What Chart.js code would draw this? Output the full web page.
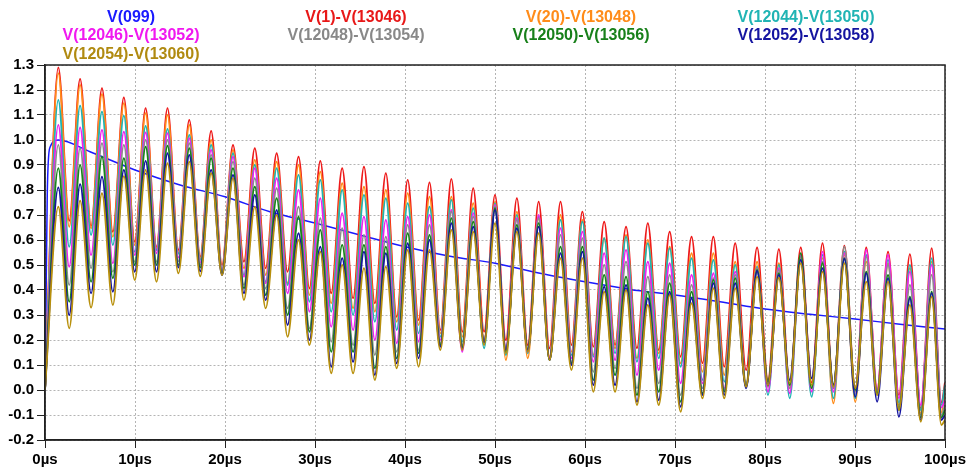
<!DOCTYPE html>
<html>
<head>
<meta charset="utf-8">
<script src="https://cdn.jsdelivr.net/npm/chart.js@4.4.1/dist/chart.umd.min.js"></script>
<style>
  html, body { margin: 0; padding: 0; background: #fff; }
  #wrap { position: relative; width: 970px; height: 472px; }
  #plot { position: absolute; left: 0; top: 0; }
  .lg { position: absolute; width: 200px; margin-left: -100px; text-align: center;
        font: bold 16px "Liberation Sans", Arial, sans-serif; line-height: 16px; white-space: nowrap; }
</style>
</head>
<body>
<div id="wrap">
  <canvas id="plot" width="970" height="472"></canvas>
  <div class="lg" style="left:131px;top:9px;color:#1a1aff">V(099)</div>
  <div class="lg" style="left:131px;top:27px;color:#f018f0">V(12046)-V(13052)</div>
  <div class="lg" style="left:131px;top:46px;color:#b08a10">V(12054)-V(13060)</div>
  <div class="lg" style="left:356px;top:9px;color:#e81818">V(1)-V(13046)</div>
  <div class="lg" style="left:356px;top:27px;color:#888888">V(12048)-V(13054)</div>
  <div class="lg" style="left:581px;top:9px;color:#ff8c1a">V(20)-V(13048)</div>
  <div class="lg" style="left:581px;top:27px;color:#18801a">V(12050)-V(13056)</div>
  <div class="lg" style="left:806px;top:9px;color:#20b4b4">V(12044)-V(13050)</div>
  <div class="lg" style="left:806px;top:27px;color:#1414a0">V(12052)-V(13058)</div>
</div>
<script>
// axis labels
const xTickLabels = ['0µs', '10µs', '20µs', '30µs', '40µs', '50µs', '60µs', '70µs', '80µs', '90µs', '100µs']
const yTickLabels = ['-0.2', '-0.1', '0.0', '0.1', '0.2', '0.3', '0.4', '0.5', '0.6', '0.7', '0.8', '0.9', '1.0', '1.1', '1.2', '1.3']

// V(099): slow decay, sample times (µs) and volts
const v099Times = [0, 0.1, 0.25, 0.55, 1.5, 5, 10, 15, 20, 25, 30, 35, 40, 45, 50, 55, 60, 65, 70, 75, 80, 85, 90, 95, 100]
const v099Values = [0, 0.3, 0.78, 0.97, 1.0, 0.953, 0.88, 0.82, 0.773, 0.713, 0.668, 0.62, 0.573, 0.535, 0.507, 0.467, 0.433, 0.402, 0.38, 0.353, 0.324, 0.303, 0.284, 0.263, 0.244]

// ringing: times (µs) of each crest and each dip
const peakTimes = [1.48, 3.90, 6.33, 8.76, 11.18, 13.61, 16.03, 18.46, 20.89, 23.31, 25.74, 28.17, 30.59, 33.02, 35.44, 37.87, 40.30, 42.72, 45.15, 47.58, 50.00, 52.43, 54.85, 57.28, 59.71, 62.13, 64.56, 66.98, 69.41, 71.84, 74.26, 76.69, 79.12, 81.54, 83.97, 86.39, 88.82, 91.25, 93.67, 96.10, 98.52]
const troughTimes = [2.69, 5.12, 7.54, 9.97, 12.39, 14.82, 17.25, 19.67, 22.10, 24.52, 26.95, 29.38, 31.80, 34.23, 36.65, 39.08, 41.51, 43.93, 46.36, 48.79, 51.21, 53.64, 56.06, 58.49, 60.92, 63.34, 65.77, 68.19, 70.62, 73.05, 75.47, 77.90, 80.33, 82.75, 85.18, 87.60, 90.03, 92.46, 94.88, 97.31, 99.60]

// V(1)-V(13046)
const redPeaks = [1.29, 1.244, 1.207, 1.17, 1.127, 1.127, 1.08, 1.036, 0.98, 0.967, 0.947, 0.933, 0.916, 0.887, 0.893, 0.867, 0.84, 0.83, 0.844, 0.807, 0.78, 0.767, 0.753, 0.753, 0.713, 0.673, 0.653, 0.667, 0.633, 0.613, 0.613, 0.587, 0.57, 0.563, 0.57, 0.587, 0.577, 0.57, 0.553, 0.543, 0.567]
const redTroughs = [0.677, 0.656, 0.633, 0.593, 0.573, 0.56, 0.533, 0.5, 0.513, 0.487, 0.473, 0.407, 0.387, 0.367, 0.347, 0.293, 0.28, 0.24, 0.233, 0.233, 0.2, 0.18, 0.167, 0.18, 0.173, 0.18, 0.167, 0.16, 0.133, 0.107, 0.093, 0.08, 0.04, 0.02, 0.03, 0.007, 0.0, 0.0, -0.02, -0.073, -0.05]
// V(20)-V(13048)
const orangePeaks = [1.267, 1.22, 1.183, 1.147, 1.107, 1.1, 1.06, 1.0, 0.96, 0.92, 0.913, 0.9, 0.873, 0.827, 0.813, 0.8, 0.787, 0.773, 0.773, 0.747, 0.753, 0.713, 0.687, 0.7, 0.68, 0.607, 0.62, 0.6, 0.573, 0.547, 0.547, 0.513, 0.513, 0.507, 0.527, 0.527, 0.54, 0.513, 0.507, 0.487, 0.513]
const orangeTroughs = [0.653, 0.647, 0.613, 0.58, 0.567, 0.55, 0.525, 0.485, 0.487, 0.46, 0.427, 0.38, 0.347, 0.327, 0.313, 0.273, 0.26, 0.227, 0.213, 0.2, 0.12, 0.127, 0.133, 0.153, 0.14, 0.167, 0.127, 0.147, 0.107, 0.073, 0.06, 0.027, 0.013, 0.007, 0.007, -0.053, -0.047, -0.013, -0.06, -0.093, -0.09]
// V(12044)-V(13050)
const cyanPeaks = [1.16, 1.137, 1.113, 1.097, 1.056, 1.044, 1.02, 0.98, 0.947, 0.9, 0.887, 0.86, 0.84, 0.8, 0.78, 0.767, 0.747, 0.733, 0.76, 0.727, 0.747, 0.7, 0.693, 0.68, 0.673, 0.607, 0.613, 0.587, 0.567, 0.527, 0.52, 0.5, 0.493, 0.5, 0.533, 0.54, 0.553, 0.54, 0.52, 0.5, 0.527]
const cyanTroughs = [0.573, 0.62, 0.58, 0.553, 0.56, 0.545, 0.52, 0.48, 0.46, 0.433, 0.42, 0.353, 0.313, 0.3, 0.273, 0.24, 0.227, 0.213, 0.193, 0.167, 0.14, 0.147, 0.127, 0.14, 0.133, 0.147, 0.113, 0.127, 0.093, 0.04, 0.033, 0.02, -0.02, -0.033, -0.027, -0.033, -0.033, -0.02, -0.05, -0.08, -0.06]
// V(12046)-V(13052)
const magentaPeaks = [1.06, 1.05, 1.04, 1.033, 1.03, 1.027, 1.007, 0.96, 0.933, 0.887, 0.847, 0.8, 0.767, 0.707, 0.693, 0.68, 0.693, 0.7, 0.72, 0.707, 0.74, 0.687, 0.7, 0.647, 0.633, 0.547, 0.56, 0.513, 0.507, 0.46, 0.467, 0.473, 0.487, 0.487, 0.54, 0.553, 0.547, 0.56, 0.54, 0.473, 0.5]
const magentaTroughs = [0.493, 0.54, 0.507, 0.54, 0.547, 0.53, 0.51, 0.475, 0.453, 0.427, 0.387, 0.313, 0.253, 0.24, 0.2, 0.187, 0.193, 0.2, 0.153, 0.19, 0.167, 0.153, 0.127, 0.127, 0.113, 0.12, 0.06, 0.08, 0.027, 0.027, 0.007, 0.013, -0.007, -0.013, -0.007, -0.007, -0.007, 0.0, -0.033, -0.06, -0.07]
// V(12048)-V(13054)
const grayPeaks = [0.98, 0.967, 0.987, 0.98, 1.0, 1.0, 0.987, 0.94, 0.913, 0.847, 0.807, 0.733, 0.687, 0.647, 0.62, 0.613, 0.66, 0.66, 0.713, 0.693, 0.733, 0.68, 0.687, 0.62, 0.607, 0.5, 0.513, 0.453, 0.46, 0.42, 0.447, 0.46, 0.487, 0.48, 0.527, 0.513, 0.573, 0.533, 0.5, 0.42, 0.46]
const grayTroughs = [0.42, 0.487, 0.473, 0.513, 0.513, 0.515, 0.5, 0.47, 0.42, 0.407, 0.327, 0.247, 0.193, 0.18, 0.14, 0.153, 0.16, 0.187, 0.18, 0.19, 0.16, 0.16, 0.12, 0.113, 0.073, 0.087, 0.007, 0.027, -0.02, 0.007, 0.0, 0.013, 0.013, 0.007, 0.007, 0.007, -0.007, -0.013, -0.07, -0.1, -0.1]
// V(12050)-V(13056)
const greenPeaks = [0.887, 0.9, 0.933, 0.927, 0.973, 0.977, 0.967, 0.927, 0.887, 0.813, 0.767, 0.693, 0.64, 0.58, 0.58, 0.573, 0.627, 0.62, 0.687, 0.673, 0.727, 0.66, 0.667, 0.573, 0.573, 0.46, 0.453, 0.393, 0.427, 0.393, 0.44, 0.447, 0.48, 0.467, 0.547, 0.507, 0.527, 0.473, 0.46, 0.373, 0.393]
const greenTroughs = [0.353, 0.433, 0.447, 0.5, 0.5, 0.5, 0.49, 0.465, 0.407, 0.38, 0.3, 0.233, 0.153, 0.153, 0.087, 0.127, 0.147, 0.18, 0.173, 0.19, 0.153, 0.16, 0.12, 0.107, 0.04, 0.06, -0.02, -0.007, -0.047, -0.013, -0.007, 0.013, 0.033, 0.02, 0.007, 0.02, 0.0, -0.013, -0.08, -0.11, -0.11]
// V(12052)-V(13058)
const navyPeaks = [0.81, 0.823, 0.853, 0.88, 0.916, 0.947, 0.94, 0.88, 0.86, 0.78, 0.72, 0.627, 0.573, 0.527, 0.553, 0.547, 0.587, 0.6, 0.667, 0.653, 0.72, 0.647, 0.653, 0.547, 0.553, 0.413, 0.42, 0.367, 0.393, 0.367, 0.427, 0.427, 0.476, 0.46, 0.52, 0.487, 0.524, 0.467, 0.447, 0.367, 0.387]
const navyTroughs = [0.3, 0.387, 0.393, 0.473, 0.473, 0.49, 0.475, 0.46, 0.387, 0.36, 0.26, 0.2, 0.093, 0.113, 0.06, 0.107, 0.127, 0.173, 0.167, 0.19, 0.16, 0.16, 0.12, 0.1, 0.02, 0.02, -0.047, -0.04, -0.067, -0.02, -0.02, 0.007, 0.02, 0.04, 0.047, 0.02, -0.027, -0.047, -0.107, -0.12, -0.12]
// V(12054)-V(13060)
const olivePeaks = [0.733, 0.757, 0.787, 0.855, 0.88, 0.907, 0.913, 0.867, 0.847, 0.733, 0.7, 0.6, 0.553, 0.5, 0.487, 0.493, 0.56, 0.56, 0.64, 0.633, 0.667, 0.633, 0.627, 0.527, 0.527, 0.393, 0.4, 0.34, 0.38, 0.347, 0.407, 0.407, 0.453, 0.449, 0.507, 0.473, 0.507, 0.433, 0.433, 0.34, 0.373]
const oliveTroughs = [0.247, 0.33, 0.34, 0.44, 0.433, 0.467, 0.455, 0.46, 0.36, 0.327, 0.213, 0.18, 0.067, 0.067, 0.04, 0.087, 0.093, 0.16, 0.16, 0.18, 0.147, 0.153, 0.12, 0.08, -0.007, -0.007, -0.06, -0.06, -0.087, -0.033, -0.033, 0.013, 0.02, 0.027, 0.02, 0.013, 0.007, -0.02, -0.08, -0.127, -0.14]

// value of each trace at 100µs
const endValues = { red: 0.03, orange: 0.0, cyan: 0.02, magenta: -0.04, gray: -0.06, green: -0.08, navy: -0.1, olive: -0.12 }

// crest/dip lists -> {x, y} points, 0 V at t = 0
function toWave(peaks, troughs, endValue) {
  const pts = [{ x: 0, y: 0 }]
  peaks.forEach((p, i) => {
    pts.push({ x: peakTimes[i], y: p })
    pts.push({ x: troughTimes[i], y: troughs[i] })
  })
  pts.push({ x: 100, y: endValue })
  return pts
}

function trace(label, color, data, order, width) {
  return {
    label,
    data,
    borderColor: color,
    backgroundColor: color,
    borderWidth: width || 1.8,
    pointRadius: 0,
    cubicInterpolationMode: 'monotone',
    fill: false,
    order
  }
}

const datasets = [
  trace('V(099)', '#1a1aff', v099Times.map((t, i) => ({ x: t, y: v099Values[i] })), 8, 1.5),
  trace('V(1)-V(13046)', '#ee1a1a', toWave(redPeaks, redTroughs, endValues.red), 7),
  trace('V(20)-V(13048)', '#ff8c1a', toWave(orangePeaks, orangeTroughs, endValues.orange), 6),
  trace('V(12044)-V(13050)', '#20b4b4', toWave(cyanPeaks, cyanTroughs, endValues.cyan), 5),
  trace('V(12046)-V(13052)', '#f020f0', toWave(magentaPeaks, magentaTroughs, endValues.magenta), 4),
  trace('V(12048)-V(13054)', '#8c8c8c', toWave(grayPeaks, grayTroughs, endValues.gray), 3),
  trace('V(12050)-V(13056)', '#18861a', toWave(greenPeaks, greenTroughs, endValues.green), 2),
  trace('V(12052)-V(13058)', '#1414a0', toWave(navyPeaks, navyTroughs, endValues.navy), 1),
  trace('V(12054)-V(13060)', '#b8900c', toWave(olivePeaks, oliveTroughs, endValues.olive), 0)
]

// closed box round the plot area
const frame = {
  id: 'frame',
  afterDraw(chart) {
    const { ctx, chartArea: a } = chart
    ctx.save()
    ctx.strokeStyle = '#222'
    ctx.lineWidth = 1.5
    ctx.strokeRect(a.left, a.top, a.right - a.left, a.bottom - a.top)
    ctx.restore()
  }
}

Chart.defaults.font.family = '"Liberation Sans", Arial, sans-serif'
Chart.defaults.font.size = 15
Chart.defaults.font.weight = 'bold'
Chart.defaults.color = '#000'

const grid = {
  color: '#b4b4b4',
  tickColor: '#222',
  tickLength: 8,
  tickBorderDash: []
}

new Chart(document.getElementById('plot'), {
  type: 'line',
  data: { datasets },
  options: {
    responsive: false,
    animation: false,
    layout: { padding: { top: 65, right: 25, left: 0, bottom: 0 } },
    plugins: { legend: { display: false }, tooltip: { enabled: false } },
    scales: {
      x: {
        type: 'linear',
        min: 0,
        max: 100,
        ticks: { stepSize: 10, padding: 3, maxRotation: 0, callback: (v, i) => xTickLabels[i] },
        grid,
        border: { color: '#222', width: 1.5, dash: [2, 2] },
        afterFit: s => { s.height = 32 }
      },
      y: {
        min: -0.2,
        max: 1.3,
        ticks: { stepSize: 0.1, padding: 3, callback: (v, i) => yTickLabels[i] },
        grid,
        border: { color: '#222', width: 1.5, dash: [2, 2] },
        afterFit: s => { s.width = 45 }
      }
    }
  },
  plugins: [frame]
})
</script>
</body>
</html>
